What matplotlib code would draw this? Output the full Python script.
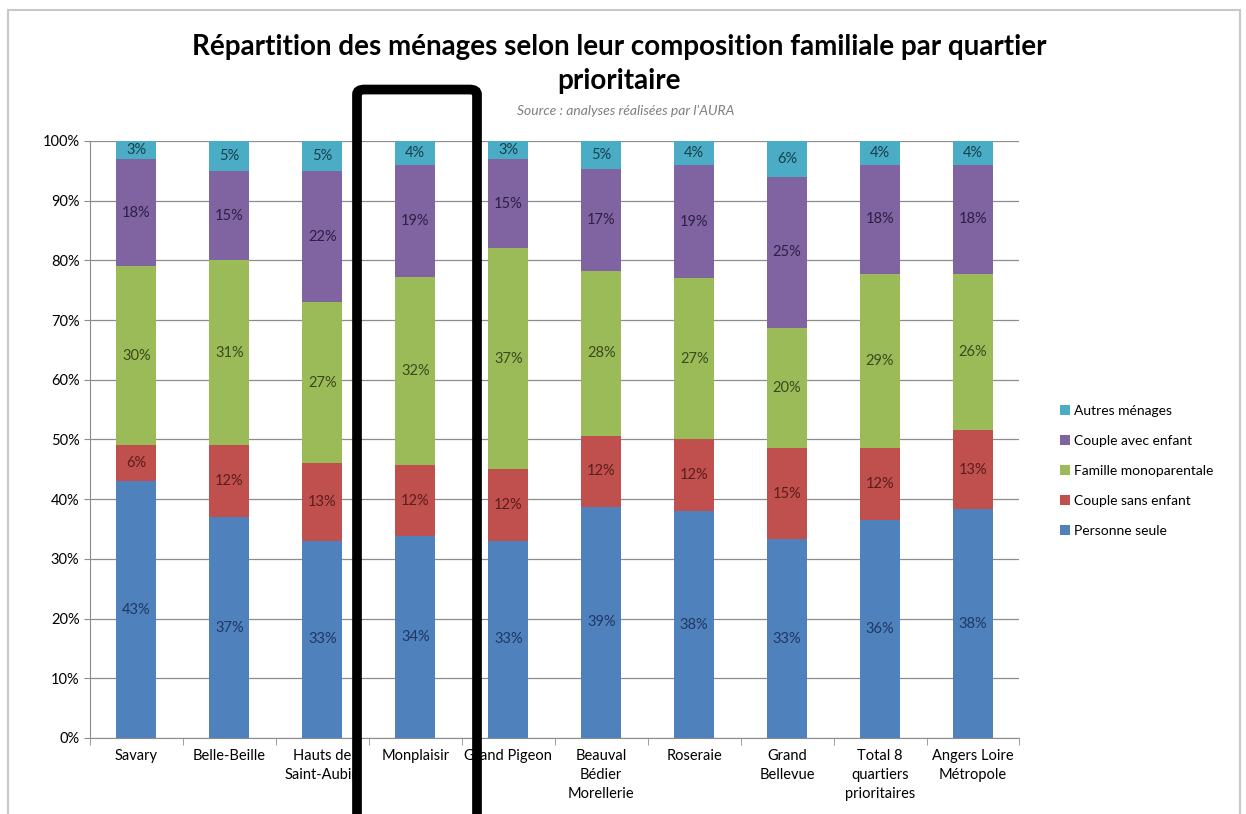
import matplotlib.pyplot as plt
from matplotlib.patches import FancyBboxPatch, Rectangle
import numpy as np

plt.rcParams["font.family"] = ["Lato", "DejaVu Sans"]

quartiers = ["Savary", "Belle-Beille", "Hauts de\nSaint-Aubin", "Monplaisir",
             "Grand Pigeon", "Beauval\nBédier\nMorellerie", "Roseraie",
             "Grand\nBellevue", "Total 8\nquartiers\nprioritaires",
             "Angers Loire\nMétropole"]

personne_seule = [43.0, 37.0, 33.0, 33.8, 33.0, 38.7, 38.0, 33.3, 36.5, 38.3]
couple_sans    = [6.0, 12.0, 13.0, 11.9, 12.0, 11.9, 12.0, 15.3, 12.1, 13.3]
famille_mono   = [30.0, 31.0, 27.0, 31.6, 37.0, 27.7, 27.0, 20.1, 29.1, 26.1]
couple_avec    = [18.0, 15.0, 22.0, 18.7, 15.0, 17.0, 19.0, 25.3, 18.3, 18.3]
autres         = [3.0, 5.0, 5.0, 4.0, 3.0, 4.7, 4.0, 6.0, 4.0, 4.0]

series = [
    ("Personne seule", personne_seule, "#4F81BD", "#1F3864"),
    ("Couple sans enfant", couple_sans, "#C0504D", "#5A1E1C"),
    ("Famille monoparentale", famille_mono, "#9BBB59", "#3B4A1E"),
    ("Couple avec enfant", couple_avec, "#8064A2", "#2E1F45"),
    ("Autres ménages", autres, "#4BACC6", "#17404B"),
]

fig = plt.figure(figsize=(12.46, 8.14), dpi=100)
ax = fig.add_axes([0.0722, 0.0934, 0.746, 0.7334])

x = np.arange(len(quartiers))
bottom = np.zeros(len(quartiers))
handles = []
for name, vals, color, tcolor in series:
    vals = np.array(vals)
    b = ax.bar(x, vals, width=0.43, bottom=bottom, color=color, label=name,
               zorder=3)
    handles.append(b)
    for xi, v, bt in zip(x, vals, bottom):
        ax.text(xi, bt + v / 2, f"{round(v):d}%", ha="center", va="center",
                fontsize=10.5, color=tcolor, zorder=4)
    bottom += vals

ax.set_xlim(-0.5, len(quartiers) - 0.5)
ax.set_ylim(0, 100)
ax.set_yticks(range(0, 101, 10))
ax.set_yticklabels([f"{v}%" for v in range(0, 101, 10)], fontsize=10.5)
ax.yaxis.grid(True, color="#8c8c8c", linewidth=0.9, zorder=0)
ax.tick_params(axis="y", length=4, color="#8c8c8c")

ax.set_xticks(x)
ax.set_xticklabels(quartiers, fontsize=10.5, linespacing=1.45)
ax.tick_params(axis="x", length=0, pad=8)
ax.set_xticks(np.arange(-0.5, len(quartiers)), minor=True)
ax.tick_params(axis="x", which="minor", length=5, color="#8c8c8c")

for s in ["top", "right"]:
    ax.spines[s].set_visible(False)
ax.spines["left"].set_color("#8c8c8c")
ax.spines["bottom"].set_color("#8c8c8c")

leg = ax.legend(handles[::-1], [s[0] for s in series][::-1],
                loc="center left", bbox_to_anchor=(1.03, 0.447), frameon=False,
                fontsize=10, handlelength=0.75, handleheight=0.75,
                handletextpad=0.3, labelspacing=1.3)

fig.text(0.497, 0.942, "Répartition des ménages selon leur composition familiale par quartier",
         ha="center", va="center", fontsize=20, fontweight="bold")
fig.text(0.497, 0.900, "prioritaire", ha="center", va="center",
         fontsize=20, fontweight="bold")
fig.text(0.502, 0.864, "Source : analyses réalisées par l'AURA", ha="center",
         va="center", fontsize=10, style="italic", color="#7f7f7f")

# outer chart frame
fig.patches.append(Rectangle((8 / 1246, -0.01), 1232 / 1246, 1 - 10 / 814 + 0.01,
                             transform=fig.transFigure, fill=False,
                             edgecolor="#c8c8c8", linewidth=1.5))

# highlight box around Monplaisir
fig.patches.append(FancyBboxPatch((357 / 1246, -0.02), 120 / 1246, 0.91,
                                  boxstyle="round,pad=0,rounding_size=0.006",
                                  transform=fig.transFigure, fill=False,
                                  edgecolor="black", linewidth=7, zorder=10))

fig.savefig("out.png", dpi=100)
